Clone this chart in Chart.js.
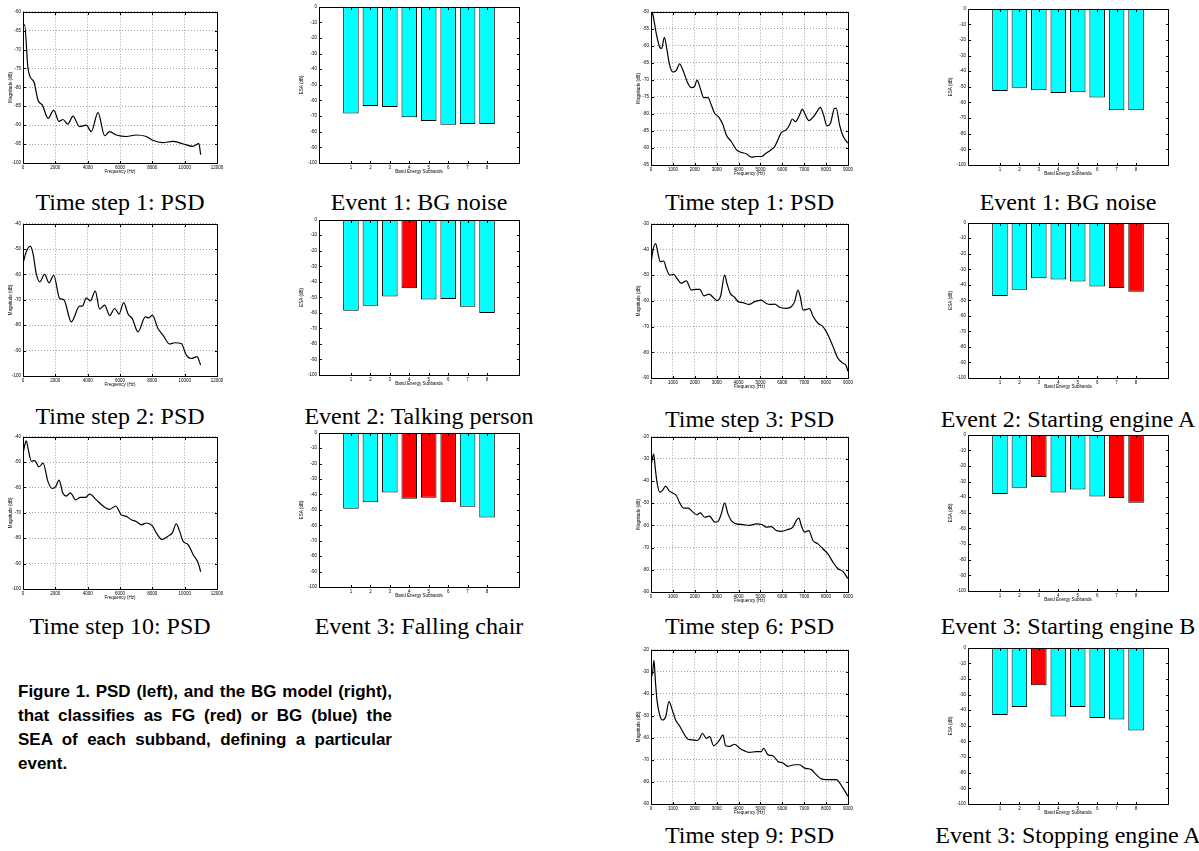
<!DOCTYPE html>
<html>
<head>
<meta charset="utf-8">
<script src="https://cdn.jsdelivr.net/npm/chart.js@4/dist/chart.umd.min.js"></script>
<style>
  body { margin: 0; background: #fff; width: 1199px; height: 851px; position: relative; overflow: hidden; }
  canvas { position: absolute; }
  .cap { position: absolute; font-family: "Liberation Serif", "Times New Roman", serif; font-size: 24px; line-height: 24px; color: #000; white-space: nowrap; transform: translateX(-50%); }
  #figcap { position: absolute; left: 18px; top: 680px; width: 374px; font-family: "Liberation Sans", Arial, sans-serif; font-weight: bold; font-size: 17px; line-height: 24px; color: #000; }
  #figcap div { text-align: justify; text-align-last: justify; white-space: nowrap; }
  #figcap div.last { text-align-last: left; }
</style>
</head>
<body>
<div id="figcap">
  <div>Figure 1. PSD (left), and the BG model (right),</div>
  <div>that classifies as FG (red) or BG (blue) the</div>
  <div>SEA of each subband, defining a particular</div>
  <div class="last">event.</div>
</div>
<script>
// tick labels
const leftFreqTicks = [0, 2000, 4000, 6000, 8000, 10000, 12000];
const rightFreqTicks = [0, 1000, 2000, 3000, 4000, 5000, 6000, 7000, 8000, 9000];
const bandTicks = [1, 2, 3, 4, 5, 6, 7, 8];
const esaTicks = [0, -10, -20, -30, -40, -50, -60, -70, -80, -90, -100];
const magTicksL1 = [-60, -65, -70, -75, -80, -85, -90, -95, -100];
const magTicksL2 = [-40, -50, -60, -70, -80, -90, -100];
const magTicksL3 = [-40, -50, -60, -70, -80, -90, -100];
const magTicksR1 = [-50, -55, -60, -65, -70, -75, -80, -85, -90, -95];
const magTicksR2 = [-30, -40, -50, -60, -70, -80, -90];
const magTicksR3 = [-20, -30, -40, -50, -60, -70, -80, -90];
const magTicksR4 = [-20, -30, -40, -50, -60, -70, -80, -90];

// left column PSDs
const psdL1Freq = [0, 100, 300, 450, 680, 930, 1200, 1550, 1900, 2230, 2470, 2780, 3090, 3500, 3920, 4220, 4640, 5050, 5360, 5770, 6390, 7000, 7630, 8030, 8650, 9270, 9880, 10500, 10880, 10990];
const psdL1Mag = [-63.8, -63.5, -74.7, -77.3, -78.6, -83.4, -84.7, -88.2, -86, -89, -88.5, -89.7, -87.6, -90.4, -90, -91.7, -86.7, -92.8, -91.7, -92.6, -93, -92.6, -93, -94, -94.6, -94.3, -94.9, -95.6, -94.9, -97.8];

const psdL2Freq = [0, 200, 450, 620, 820, 1030, 1340, 1610, 1900, 2270, 2520, 2990, 3500, 3670, 3920, 4160, 4470, 4740, 5050, 5360, 5670, 5940, 6230, 6500, 6760, 7110, 7570, 7790, 8000, 8350, 8660, 9070, 9380, 9790, 10100, 10410, 10760, 10990];
const psdL2Mag = [-55.7, -51.1, -48.8, -51.8, -59.7, -62.9, -60, -63.3, -60.3, -69.5, -69.9, -78.7, -72.5, -72.5, -69.2, -70.4, -66.6, -73.6, -72.1, -76.2, -73.4, -75.6, -71.1, -75.6, -77.4, -82.6, -76.7, -77.1, -76, -81.3, -83.9, -87.4, -86.9, -87.2, -91.8, -93.1, -92.4, -95.7];

const psdL3Freq = [0, 100, 200, 300, 510, 720, 990, 1240, 1550, 1810, 2020, 2230, 2470, 2680, 2930, 3260, 3550, 3880, 4120, 4540, 4950, 5360, 5730, 6080, 6390, 6700, 7010, 7320, 7630, 8000, 8250, 8600, 8970, 9240, 9480, 9690, 9900, 10210, 10520, 10830, 10990];
const psdL3Mag = [-46.8, -43.5, -41.6, -44.2, -49.6, -49.4, -51.9, -50.4, -57.8, -60.4, -59.7, -57.1, -62.3, -63.4, -62.1, -64.9, -63.9, -63.9, -62.6, -64.9, -67.3, -68.6, -67.3, -70.8, -71.4, -72.7, -73.4, -74.7, -74, -75.1, -77.9, -80.5, -79.2, -77.9, -74.3, -77.3, -81.2, -82.5, -86.4, -89.6, -93.2];

// right column PSDs
const psdR1Freq = [0, 60, 137, 244, 396, 487, 609, 730, 852, 1005, 1157, 1309, 1461, 1690, 1842, 1994, 2100, 2253, 2405, 2603, 2755, 2907, 3105, 3288, 3440, 3668, 3897, 4125, 4353, 4581, 4810, 5038, 5266, 5495, 5647, 5799, 5951, 6180, 6332, 6454, 6606, 6788, 6910, 7017, 7215, 7428, 7626, 7732, 7884, 8037, 8189, 8387, 8463, 8615, 8767, 8995];
const psdR1Mag = [-52.6, -50.2, -52.6, -56.5, -60.4, -60.8, -57.5, -61.2, -65.7, -67.7, -67.2, -65.3, -67.2, -71.1, -72.3, -71.9, -70.1, -72.5, -75.2, -75.2, -77.4, -79.8, -81, -83.2, -86.2, -88.1, -90.5, -91.3, -91.7, -92.7, -92.5, -92.5, -91.5, -90.5, -89.6, -87.6, -85.5, -84.7, -83.2, -81.5, -82.3, -80.3, -78.6, -79.8, -82, -80.8, -78.9, -78.1, -80.3, -83.5, -82.9, -78.4, -78.4, -83.2, -86.4, -88.6];

const psdR2Freq = [0, 91, 213, 320, 426, 578, 700, 852, 1035, 1187, 1385, 1613, 1842, 2040, 2222, 2420, 2648, 2831, 3014, 3181, 3364, 3470, 3622, 3820, 3973, 4201, 4475, 4734, 5038, 5266, 5449, 5647, 5875, 6180, 6408, 6560, 6712, 6819, 6941, 7123, 7245, 7397, 7626, 7854, 8082, 8311, 8539, 8767, 8919, 8995];
const psdR2Mag = [-45.5, -40.3, -37.7, -41.6, -44.8, -44.5, -47.4, -50, -49.7, -51.3, -53.2, -52.2, -55.8, -55.5, -55.5, -58.1, -57.4, -58.6, -59.9, -58.1, -50, -53.2, -57.1, -58.6, -60.3, -60.7, -61.4, -60.3, -59.7, -61, -61.4, -61.3, -62.5, -62.9, -62.3, -60.3, -55.8, -58.4, -63.5, -63.3, -63, -65.9, -68.7, -70, -73.2, -77.7, -82.3, -84.2, -85.2, -87.4];

const psdR3Freq = [0, 60, 122, 198, 274, 396, 517, 670, 822, 974, 1157, 1309, 1492, 1689, 1918, 2100, 2253, 2451, 2679, 2907, 3059, 3212, 3364, 3516, 3668, 3896, 4201, 4505, 4810, 5068, 5266, 5495, 5723, 5951, 6256, 6484, 6636, 6758, 6865, 7017, 7215, 7397, 7626, 7854, 8082, 8311, 8539, 8767, 8995];
const psdR3Mag = [-33, -30, -27.8, -34.5, -40.5, -45, -44.3, -42.3, -44.3, -45.3, -46.5, -49.8, -52.2, -52.2, -54, -55.2, -54.3, -56.3, -55.8, -58.5, -58.2, -54.8, -49.8, -54.8, -57.8, -59.3, -59.6, -60, -59.3, -59.6, -60.8, -60.5, -62.3, -62.7, -61.8, -60.8, -57.8, -56.7, -60, -63, -62.3, -66.8, -68.3, -70.5, -72.8, -76.5, -79.5, -80.7, -84];

const psdR4Freq = [0, 76, 137, 198, 274, 396, 517, 670, 822, 974, 1126, 1309, 1492, 1690, 1918, 2100, 2222, 2344, 2527, 2679, 2861, 3014, 3135, 3288, 3409, 3592, 3820, 4049, 4277, 4505, 4810, 5038, 5145, 5342, 5571, 5799, 6027, 6256, 6560, 6788, 7017, 7321, 7549, 7778, 8006, 8234, 8463, 8767, 8995];
const psdR4Mag = [-33.1, -30.1, -24.8, -33.8, -42.9, -49.6, -51.9, -50.4, -43.6, -47.4, -51.9, -54.6, -57.9, -60.6, -60.9, -61.2, -60.2, -57.9, -60.2, -59.4, -63.6, -62.4, -60.9, -58.6, -63.6, -63.9, -62.9, -64.7, -65.9, -66.6, -66.2, -66.2, -64.7, -67.7, -68.1, -70.7, -71.4, -72.9, -72.2, -72.2, -73.7, -74.4, -76.7, -78.6, -78.9, -78.9, -78.9, -82.7, -86.5];

// band energy (ESA, dB) and FG/BG classification per subband
const esaL1 = [-68.4, -63.6, -64.2, -70.8, -73.1, -75.5, -75, -75];
const clsL1 = ['BG', 'BG', 'BG', 'BG', 'BG', 'BG', 'BG', 'BG'];
const esaL2 = [-58.6, -55.4, -49.5, -44.1, -51.4, -51, -56, -60];
const clsL2 = ['BG', 'BG', 'BG', 'FG', 'BG', 'BG', 'BG', 'BG'];
const esaL3 = [-49.3, -45, -38.8, -42.8, -42.2, -45, -48, -55];
const clsL3 = ['BG', 'BG', 'BG', 'FG', 'FG', 'FG', 'BG', 'BG'];
const esaR1 = [-52.6, -50.6, -52.1, -54, -53.4, -56.8, -65, -65];
const clsR1 = ['BG', 'BG', 'BG', 'BG', 'BG', 'BG', 'BG', 'BG'];
const esaR2 = [-47.2, -43.2, -35.7, -36.6, -37.9, -41.1, -42, -44.5];
const clsR2 = ['BG', 'BG', 'BG', 'BG', 'BG', 'BG', 'FG', 'FG'];
const esaR3 = [-38, -34, -27, -37, -35, -39.5, -40.5, -43.5];
const clsR3 = ['BG', 'BG', 'FG', 'BG', 'BG', 'BG', 'FG', 'FG'];
const esaR4 = [-43, -38, -24, -44, -38, -45, -46, -53];
const clsR4 = ['BG', 'BG', 'FG', 'BG', 'BG', 'BG', 'BG', 'BG'];

const captionsL = [['Time step 1: PSD', 'Event 1: BG noise'], ['Time step 2: PSD', 'Event 2: Talking person'], ['Time step 10: PSD', 'Event 3: Falling chair']];
const captionsR = [['Time step 1: PSD', 'Event 1: BG noise'], ['Time step 3: PSD', 'Event 2: Starting engine A'], ['Time step 6: PSD', 'Event 3: Starting engine B'], ['Time step 9: PSD', 'Event 3: Stopping engine A']];

// plot areas on the page [left, top, right, bottom] and caption tops
const rectPsdL = [[23, 11, 217, 163], [23, 223, 217, 376], [23, 436, 217, 589]];
const rectBarL = [[319, 6, 519, 163], [319, 219, 519, 375], [319, 432, 519, 587]];
const capTopL = [190, 404, 614];
const rectPsdR = [[651, 11, 848, 165], [651, 223, 848, 378], [651, 436, 848, 592], [651, 649, 848, 804]];
const rectBarR = [[968, 8, 1168, 165], [968, 222, 1168, 378], [968, 434, 1168, 591], [968, 647, 1168, 804]];
const capTopR = [190, 407, 614, 823];

const PAD_T = 4, PAD_R = 10, AX_H = 12;
const smallFont = { family: 'Liberation Sans', size: 4.5 };

// MATLAB-like box with inward ticks
const boxPlugin = {
  id: 'box',
  afterDraw(chart) {
    const { ctx, chartArea: a, scales } = chart;
    const L = Math.round(a.left) + 0.5, R = Math.round(a.right) + 0.5;
    const T = Math.round(a.top) + 0.5, B = Math.round(a.bottom) + 0.5;
    ctx.save();
    ctx.strokeStyle = '#000';
    ctx.lineWidth = 1;
    ctx.beginPath();
    scales.x.ticks.forEach(t => {
      const px = Math.round(scales.x.getPixelForValue(t.value)) + 0.5;
      ctx.moveTo(px, B); ctx.lineTo(px, B - 2.5);
      ctx.moveTo(px, T); ctx.lineTo(px, T + 2.5);
    });
    scales.y.ticks.forEach(t => {
      const py = Math.round(scales.y.getPixelForValue(t.value)) + 0.5;
      ctx.moveTo(L, py); ctx.lineTo(L + 2.5, py);
      ctx.moveTo(R, py); ctx.lineTo(R - 2.5, py);
    });
    ctx.stroke();
    ctx.strokeRect(L, T, R - L, B - T);
    ctx.restore();
  }
};

function makeCanvas(rect, axW) {
  const c = document.createElement('canvas');
  c.width = rect[2] - rect[0] + axW + PAD_R;
  c.height = rect[3] - rect[1] + PAD_T + AX_H;
  c.style.left = (rect[0] - axW) + 'px';
  c.style.top = (rect[1] - PAD_T) + 'px';
  document.body.appendChild(c);
  return c;
}

function axis(ticks, min, max, title, fit, grid) {
  return {
    type: 'linear', min: min, max: max,
    afterBuildTicks: s => { s.ticks = ticks.map(v => ({ value: v })); },
    afterFit: fit,
    ticks: { font: smallFont, color: '#000', padding: 2, maxRotation: 0, autoSkip: false, callback: v => String(v) },
    grid: { display: grid, color: '#a0a0a0', lineWidth: 1, drawTicks: false },
    border: { display: false, dash: [1, 2] },
    title: { display: true, text: title, font: smallFont, color: '#000', padding: { top: 1, bottom: 1 } }
  };
}

function psdChart(rect, freq, mag, fTicks, mTicks) {
  const axW = 16;
  new Chart(makeCanvas(rect, axW), {
    type: 'line',
    data: { datasets: [{ data: freq.map((f, i) => ({ x: f, y: mag[i] })), borderColor: '#000', borderWidth: 1.2, pointRadius: 0, cubicInterpolationMode: 'monotone', fill: false }] },
    options: {
      responsive: false, animation: false, events: [],
      layout: { autoPadding: false, padding: { top: PAD_T, right: PAD_R, left: 0, bottom: 0 } },
      plugins: { legend: { display: false }, tooltip: { enabled: false } },
      scales: {
        x: axis(fTicks, 0, fTicks[fTicks.length - 1], 'Frequency (Hz)', s => { s.height = AX_H; }, true),
        y: axis(mTicks, mTicks[mTicks.length - 1], mTicks[0], 'Magnitude (dB)', s => { s.width = axW; }, true)
      }
    },
    plugins: [boxPlugin]
  });
}

function barChart(rect, esa, cls) {
  const axW = 21;
  new Chart(makeCanvas(rect, axW), {
    type: 'bar',
    data: { datasets: [{
      data: esa.map((v, i) => ({ x: bandTicks[i], y: v })),
      backgroundColor: cls.map(c => c === 'FG' ? '#ff0000' : '#00ffff'),
      borderColor: '#000', borderWidth: 1, borderSkipped: false,
      barPercentage: 0.8, categoryPercentage: 1
    }] },
    options: {
      responsive: false, animation: false, events: [],
      layout: { autoPadding: false, padding: { top: PAD_T, right: PAD_R, left: 0, bottom: 0 } },
      plugins: { legend: { display: false }, tooltip: { enabled: false } },
      scales: {
        x: axis(bandTicks, 0, 9, 'Band Energy Subbands', s => { s.height = AX_H; }, false),
        y: axis(esaTicks, -100, 0, 'ESA (dB)', s => { s.width = axW; }, false)
      }
    },
    plugins: [boxPlugin]
  });
}

function caption(text, rect, top) {
  const d = document.createElement('div');
  d.className = 'cap';
  d.textContent = text;
  d.style.left = ((rect[0] + rect[2]) / 2) + 'px';
  d.style.top = top + 'px';
  document.body.appendChild(d);
}

const psdL = [[psdL1Freq, psdL1Mag, magTicksL1], [psdL2Freq, psdL2Mag, magTicksL2], [psdL3Freq, psdL3Mag, magTicksL3]];
const psdR = [[psdR1Freq, psdR1Mag, magTicksR1], [psdR2Freq, psdR2Mag, magTicksR2], [psdR3Freq, psdR3Mag, magTicksR3], [psdR4Freq, psdR4Mag, magTicksR4]];
const barsL = [[esaL1, clsL1], [esaL2, clsL2], [esaL3, clsL3]];
const barsR = [[esaR1, clsR1], [esaR2, clsR2], [esaR3, clsR3], [esaR4, clsR4]];

psdL.forEach((p, i) => {
  psdChart(rectPsdL[i], p[0], p[1], leftFreqTicks, p[2]);
  barChart(rectBarL[i], barsL[i][0], barsL[i][1]);
  caption(captionsL[i][0], rectPsdL[i], capTopL[i]);
  caption(captionsL[i][1], rectBarL[i], capTopL[i]);
});
psdR.forEach((p, i) => {
  psdChart(rectPsdR[i], p[0], p[1], rightFreqTicks, p[2]);
  barChart(rectBarR[i], barsR[i][0], barsR[i][1]);
  caption(captionsR[i][0], rectPsdR[i], capTopR[i]);
  caption(captionsR[i][1], rectBarR[i], capTopR[i]);
});
</script>
</body>
</html>
